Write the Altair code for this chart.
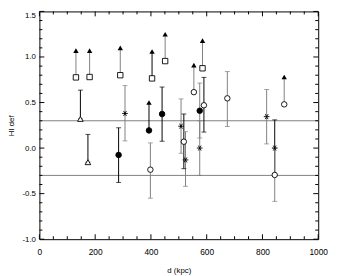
import altair as alt
import pandas as pd

# ---------------- data ----------------
# lower-limit measurements: base marker -> arrow (filled triangle) above
lim_d = [131, 180, 290, 404, 451, 554, 585, 878, 393]
lim_base = [0.776, 0.78, 0.80, 0.765, 0.955, 0.614, 0.876, 0.48, 0.194]
lim_top = [1.07, 1.07, 1.10, 1.06, 1.25, 0.91, 1.18, 0.78, 0.50]
lim_marker = ["square", "square", "square", "square", "square",
              "open circle", "square", "open circle", "filled circle"]
lim_set = ["B", "B", "B", "A", "B", "C", "C", "B", "A"]

# measurements with error bars
err_d = [147, 174, 284, 307, 398, 440, 508, 518, 524, 575, 575, 590, 674, 815, 844, 844]
err_v = [0.32, -0.155, -0.075, 0.38, -0.237, 0.374, 0.24, 0.07, -0.13, 0.41, 0.0,
         0.47, 0.546, 0.345, 0.0, -0.295]
err_lo = [0.32, -0.155, -0.377, 0.079, -0.55, 0.075, -0.057, -0.226, -0.42, 0.11, -0.30,
          0.176, 0.237, 0.046, -0.30, -0.585]
err_hi = [0.636, 0.15, 0.223, 0.686, 0.057, 0.67, 0.54, 0.374, 0.18, 0.714, 0.30,
          0.776, 0.84, 0.643, 0.31, 0.0]
err_marker = ["open triangle", "open triangle", "filled circle", "asterisk", "open circle",
              "filled circle", "asterisk", "open circle", "asterisk", "filled circle",
              "asterisk", "open circle", "open circle", "asterisk", "asterisk", "open circle"]
err_set = ["A", "A", "A", "B", "C", "A", "B", "A", "C", "B", "B", "A", "B", "C", "A", "B"]

ref_lines = [0.3, -0.3]

x_major = [0, 200, 400, 600, 800, 1000]
x_minor = [v for v in range(0, 1001, 50) if v % 200 != 0]
y_major = [-1.0, -0.5, 0.0, 0.5, 1.0, 1.5]
y_minor = [round(-1.0 + 0.1 * i, 1) for i in range(26) if i % 5 != 0]

# ---------------- tables ----------------
lim_df = pd.DataFrame({"d": lim_d, "lo": lim_base, "hi": lim_top, "set": lim_set})
err_df = pd.DataFrame({"d": err_d, "v": err_v, "lo": err_lo, "hi": err_hi, "set": err_set})
mk_df = pd.DataFrame({
    "d": lim_d + err_d,
    "v": lim_base + err_v,
    "marker": lim_marker + err_marker,
})
top_df = pd.DataFrame({"d": lim_d, "v": lim_top})
ref_df = pd.DataFrame({"v": ref_lines})

W, H = 284, 232
FONT = "Liberation Sans"
GRAY = "#7f7f7f"

x_scale = alt.Scale(domain=[0, 1000], nice=False, zero=False)
y_scale = alt.Scale(domain=[-1.0, 1.5], nice=False, zero=False)

x_axis = alt.Axis(values=x_major, format="d", ticks=False, domain=False, grid=False,
                  labelFont=FONT, labelFontSize=8.5, labelColor="black", labelPadding=9,
                  labelFlush=False, title="d (kpc)", titleFont=FONT, titleFontSize=8,
                  titleFontWeight="normal", titleColor="black", titleX=142, titleY=32,
                  titleBaseline="middle", titleAlign="center")
y_axis = alt.Axis(values=y_major, ticks=False, domain=False, grid=False,
                  labelExpr="(datum.value < 0 ? '-' : '') + format(abs(datum.value), '.1f')",
                  labelFont=FONT, labelFontSize=8, labelColor="black", labelPadding=4,
                  labelFlush=False,
                  labelBaseline=alt.condition("datum.value == 1.5", alt.value("top"), alt.value("middle")),
                  title="HI def", titleFont=FONT, titleFontSize=8, titleFontWeight="normal",
                  titleColor="black", titleX=-28, titleY=116, titleAngle=-90,
                  titleBaseline="middle", titleAlign="center")


def X(field="d"):
    return alt.X(f"{field}:Q", scale=x_scale, axis=x_axis)


def Y(field):
    return alt.Y(f"{field}:Q", scale=y_scale, axis=y_axis)


set_color = alt.Color("set:N", scale=alt.Scale(domain=["A", "B", "C"],
                                               range=["black", GRAY, GRAY]), legend=None)
set_width = alt.StrokeWidth("set:N", scale=alt.Scale(domain=["A", "B", "C"],
                                                     range=[1, 1, 2]), legend=None)

ASTER = "M-1,0L1,0M-0.5,-0.87L0.5,0.87M-0.5,0.87L0.5,-0.87"
marker_shape = alt.Shape("marker:N", scale=alt.Scale(
    domain=["square", "open circle", "filled circle", "open triangle", "asterisk"],
    range=["square", "circle", "circle", "triangle-up", ASTER]), legend=None)
marker_fill = alt.Fill("marker:N", scale=alt.Scale(
    domain=["square", "open circle", "filled circle", "open triangle", "asterisk"],
    range=["white", "white", "black", "white", "black"]), legend=None)
marker_size = alt.Size("marker:N", scale=alt.Scale(
    domain=["square", "open circle", "filled circle", "open triangle", "asterisk"],
    range=[30, 34, 40, 30, 40]), legend=None)

refs = alt.Chart(ref_df).mark_rule(color=GRAY, strokeWidth=1).encode(y=Y("v"))

lims = alt.Chart(lim_df).mark_rule().encode(x=X(), y=Y("lo"), y2="hi:Q",
                                            color=set_color, strokeWidth=set_width)
bars = alt.Chart(err_df).mark_rule().encode(x=X(), y=Y("lo"), y2="hi:Q",
                                            color=set_color, strokeWidth=set_width)
caps = alt.Chart(err_df).transform_fold(["lo", "hi"], as_=["end", "yv"]).mark_tick(
    orient="horizontal", size=5, thickness=1).encode(x=X(), y=Y("yv"), color=set_color)

tops = alt.Chart(top_df).mark_point(shape="triangle-up", filled=True, color="black",
                                    size=30, opacity=1).encode(x=X(), y=Y("v"))
marks = alt.Chart(mk_df).mark_point(filled=True, stroke="black", strokeWidth=0.9,
                                    opacity=1, fillOpacity=1).encode(
    x=X(), y=Y("v"), shape=marker_shape, fill=marker_fill, size=marker_size)


def xticks(vals, length):
    df = pd.DataFrame({"t": vals})
    b = alt.Chart(df).mark_rule(color="black", strokeWidth=1)
    return [b.encode(x=X("t"), y=alt.value(H - length), y2=alt.value(H)),
            b.encode(x=X("t"), y=alt.value(0), y2=alt.value(length))]


def yticks(vals, length):
    df = pd.DataFrame({"t": vals})
    b = alt.Chart(df).mark_rule(color="black", strokeWidth=1)
    return [b.encode(y=Y("t"), x=alt.value(0), x2=alt.value(length)),
            b.encode(y=Y("t"), x=alt.value(W - length), x2=alt.value(W))]


tick_layers = xticks(x_major, 5) + xticks(x_minor, 3) + yticks(y_major, 5) + yticks(y_minor, 3)

chart = alt.layer(refs, lims, bars, caps, tops, marks, *tick_layers).properties(
    width=W, height=H,
    autosize=alt.AutoSizeParams(type="none"),
    padding={"left": 32, "top": 1, "right": 12, "bottom": 35},
    background="white",
).configure_view(stroke="black", strokeWidth=1)

chart.save("out.html", embed_options={"renderer": "svg", "actions": False})
